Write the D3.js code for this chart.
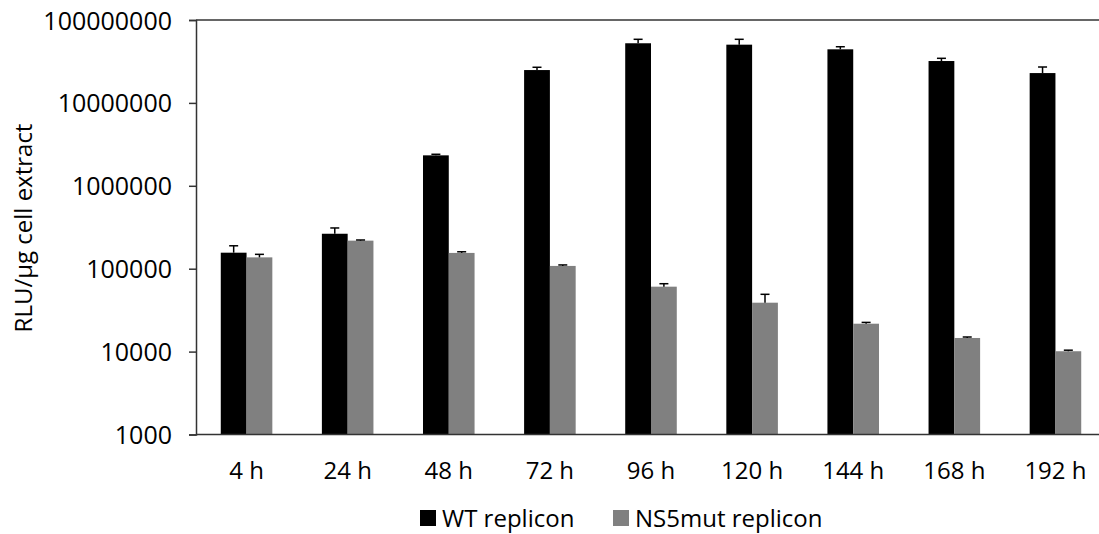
<!DOCTYPE html>
<html>
<head>
<meta charset="utf-8">
<script src="https://cdn.jsdelivr.net/npm/d3@7"></script>
<style>
  body { margin: 0; background: #fff; overflow: hidden; }
  svg { display: block; }
  text { font-family: "Open Sans", sans-serif; fill: #000; }
</style>
</head>
<body>
<div id="container"></div>
<script>
var width = 1099;
var height = 534;

// data
var timepoints = ["4 h", "24 h", "48 h", "72 h", "96 h", "120 h", "144 h", "168 h", "192 h"];
var seriesNames = ["WT replicon", "NS5mut replicon"];
var wtValues = [156000, 264000, 2330000, 24900000, 52400000, 50400000, 44300000, 32000000, 22900000];
var wtErrors = [33000, 46000, 70000, 2000000, 6100000, 8100000, 3300000, 2500000, 4200000];
var mutValues = [137000, 218000, 155000, 108000, 60700, 38900, 21700, 14600, 10100];
var mutErrors = [12000, 4000, 5000, 3000, 5200, 10200, 800, 400, 300];
var yTicks = [1000, 10000, 100000, 1000000, 10000000, 100000000];
var colors = ["#000000", "#808080"];

var margin = {left: 196, top: 20, right: -7, bottom: 100};

const SVG = d3.select("#container")
              .append("svg")
              .attr("width", width)
              .attr("height", height);

const x = d3.scaleBand()
            .domain(timepoints)
            .range([margin.left, width - margin.right])
            .paddingInner(0.49)
            .paddingOuter(0.245);

const xSub = d3.scaleBand()
               .domain(seriesNames)
               .range([0, x.bandwidth()]);

const y = d3.scaleLog()
            .domain([1000, 100000000])
            .range([434.5, margin.top]);

var rows = timepoints.map((t, i) => ({
  t: t,
  vals: [
    {name: seriesNames[0], v: wtValues[i], e: wtErrors[i]},
    {name: seriesNames[1], v: mutValues[i], e: mutErrors[i]}
  ]
}));

// top frame line
SVG.append("line")
   .attr("x1", margin.left).attr("x2", width)
   .attr("y1", y(100000000)).attr("y2", y(100000000))
   .attr("stroke", "#333").attr("stroke-width", 1.5);

const groups = SVG.selectAll("g.grp")
                  .data(rows)
                  .enter()
                  .append("g")
                  .attr("class", "grp")
                  .attr("transform", d => `translate(${x(d.t)},0)`);

groups.selectAll("rect")
      .data(d => d.vals)
      .enter()
      .append("rect")
      .attr("x", d => xSub(d.name))
      .attr("width", xSub.bandwidth())
      .attr("y", d => y(d.v))
      .attr("height", d => y(1000) - y(d.v))
      .attr("fill", (d, i) => colors[i]);

// error bars (upper only)
var err = groups.selectAll("g.err")
                .data(d => d.vals)
                .enter()
                .append("g")
                .attr("class", "err")
                .attr("stroke", "#000")
                .attr("stroke-width", 1.5);

err.append("line")
   .attr("x1", d => xSub(d.name) + xSub.bandwidth() / 2)
   .attr("x2", d => xSub(d.name) + xSub.bandwidth() / 2)
   .attr("y1", d => y(d.v))
   .attr("y2", d => y(d.v + d.e));

err.append("line")
   .attr("x1", d => xSub(d.name) + xSub.bandwidth() / 2 - 4.5)
   .attr("x2", d => xSub(d.name) + xSub.bandwidth() / 2 + 4.5)
   .attr("y1", d => y(d.v + d.e))
   .attr("y2", d => y(d.v + d.e));

// y axis
const yAxis = SVG.append("g")
                 .attr("transform", `translate(${margin.left},0)`)
                 .call(d3.axisLeft(y).tickValues(yTicks).tickFormat(d3.format("d")).tickSizeOuter(0).tickSize(7).tickPadding(17));
yAxis.select(".domain").attr("stroke", "#333").attr("stroke-width", 1.5);
yAxis.selectAll(".tick line").attr("stroke", "#333").attr("stroke-width", 1.5);
yAxis.selectAll(".tick text")
     .style("font-size", "25px")
     .attr("fill", "#000")
     .attr("dy", "0.36em");

// x axis
const xAxis = SVG.append("g")
                 .attr("transform", `translate(0,${y(1000)})`)
                 .call(d3.axisBottom(x).tickSize(0).tickPadding(27));
xAxis.select(".domain").attr("stroke", "#333").attr("stroke-width", 1.5)
     .attr("d", `M${margin.left},0H${width}`);
xAxis.selectAll(".tick text")
     .style("font-size", "24px")
     .attr("fill", "#000");

// y title
SVG.append("text")
   .attr("transform", `translate(32,228) rotate(-90)`)
   .attr("text-anchor", "middle")
   .style("font-size", "24px")
   .text("RLU/µg cell extract");

// legend
var legendX = [420, 613];
const legend = SVG.selectAll("g.legend")
                  .data(seriesNames)
                  .enter()
                  .append("g")
                  .attr("class", "legend")
                  .attr("transform", (d, i) => `translate(${legendX[i]},510)`);
legend.append("rect")
      .attr("width", 16).attr("height", 16)
      .attr("fill", (d, i) => colors[i]);
legend.append("text")
      .attr("x", 22).attr("y", 8).attr("dy", "0.36em")
      .style("font-size", "24px")
      .text(d => d);
</script>
</body>
</html>
